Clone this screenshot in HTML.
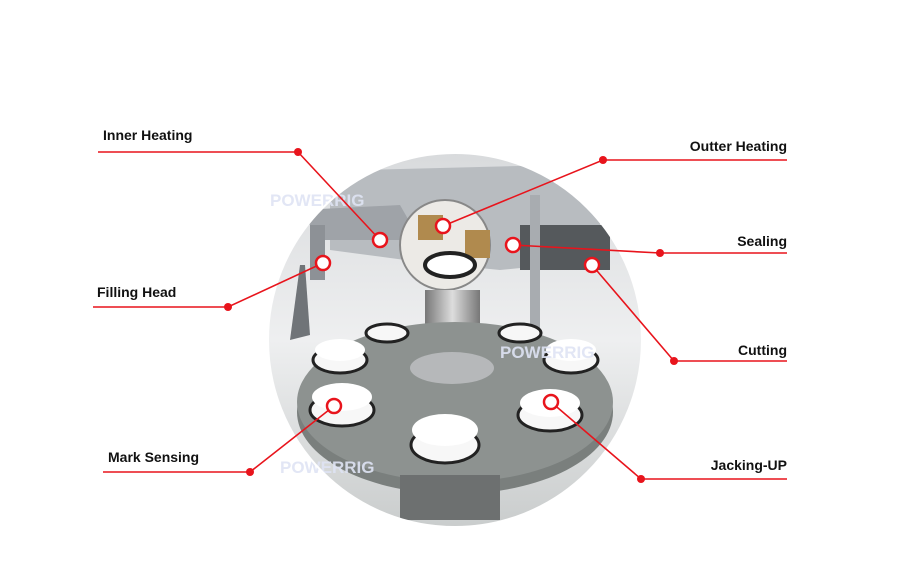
<!DOCTYPE html>
<html><head><style>
body{margin:0;background:#fff;width:900px;height:575px;overflow:hidden;font-family:"Liberation Sans",sans-serif}
</style></head><body>
<svg width="900" height="575" xmlns="http://www.w3.org/2000/svg">
<defs>
<clipPath id="c"><circle cx="455" cy="340" r="187"/></clipPath>
<linearGradient id="bg" x1="0" y1="0" x2="0" y2="1"><stop offset="0" stop-color="#d8dadc"/><stop offset="0.5" stop-color="#eeeff0"/><stop offset="1" stop-color="#c9cccc"/></linearGradient>
<linearGradient id="col" x1="0" y1="0" x2="1" y2="0"><stop offset="0" stop-color="#777"/><stop offset="0.5" stop-color="#ddd"/><stop offset="1" stop-color="#777"/></linearGradient>
</defs>
<g clip-path="url(#c)">
<rect x="260" y="150" width="400" height="380" fill="url(#bg)"/>
<path d="M360 170 L560 165 L600 200 L600 260 L500 270 L420 262 L330 250 L330 200 Z" fill="#b8bcc0"/>
<path d="M300 210 L400 205 L420 240 L320 240 Z" fill="#9fa3a8"/>
<rect x="310" y="225" width="15" height="55" fill="#8d9196"/>
<path d="M300 265 L290 340 L310 335 L305 265 Z" fill="#707478"/>
<rect x="520" y="225" width="90" height="45" fill="#55595c"/>
<circle cx="445" cy="245" r="45" fill="#eceae6" stroke="#888" stroke-width="2"/>
<rect x="418" y="215" width="25" height="25" fill="#b08a4e"/>
<rect x="465" y="230" width="25" height="28" fill="#b08a4e"/>
<ellipse cx="450" cy="265" rx="25" ry="12" fill="#fff" stroke="#222" stroke-width="4"/>
<rect x="425" y="290" width="55" height="75" fill="url(#col)"/>
<rect x="530" y="195" width="10" height="215" fill="#a8acb0"/>
<ellipse cx="455" cy="412" rx="158" ry="82" fill="#7a7f7d"/>
<ellipse cx="455" cy="402" rx="158" ry="80" fill="#8d9290"/>
<ellipse cx="452" cy="368" rx="42" ry="16" fill="#b6b8ba"/>
<rect x="400" y="475" width="100" height="45" fill="#6d7070"/>
<g fill="#f7f7f7" stroke="#222" stroke-width="3">
<ellipse cx="387" cy="333" rx="21" ry="9"/>
<ellipse cx="520" cy="333" rx="21" ry="9"/>
<ellipse cx="340" cy="360" rx="27" ry="13"/>
<ellipse cx="571" cy="360" rx="27" ry="13"/>
<ellipse cx="342" cy="410" rx="32" ry="16"/>
<ellipse cx="445" cy="445" rx="34" ry="18"/>
<ellipse cx="550" cy="415" rx="32" ry="16"/>
</g>
<g fill="#fff"><ellipse cx="342" cy="397" rx="30" ry="14"/><ellipse cx="445" cy="430" rx="33" ry="16"/><ellipse cx="550" cy="403" rx="30" ry="14"/><ellipse cx="340" cy="350" rx="25" ry="11"/><ellipse cx="571" cy="350" rx="25" ry="11"/></g>
</g>
<text x="270" y="206" font-size="17" font-weight="bold" fill="#dfe4f4" opacity="0.9">POWERRIG</text>
<text x="500" y="358" font-size="17" font-weight="bold" fill="#dfe4f4" opacity="0.9">POWERRIG</text>
<text x="280" y="473" font-size="17" font-weight="bold" fill="#dfe4f4" opacity="0.9">POWERRIG</text>
<circle cx="455" cy="340" r="187" fill="none" stroke="#fff" stroke-width="2"/>
<g stroke="#e8141c" stroke-width="1.6" fill="none">
<polyline points="98,152 298,152 380,240"/>
<polyline points="787,160 603,160 443,226"/>
<polyline points="787,253 660,253 513,245"/>
<polyline points="93,307 228,307 323,263"/>
<polyline points="787,361 674,361 592,265"/>
<polyline points="103,472 250,472 334,406"/>
<polyline points="787,479 641,479 551,402"/>
</g>
<g fill="#e8141c"><circle cx="298" cy="152" r="4"/><circle cx="603" cy="160" r="4"/><circle cx="660" cy="253" r="4"/><circle cx="228" cy="307" r="4"/><circle cx="674" cy="361" r="4"/><circle cx="250" cy="472" r="4"/><circle cx="641" cy="479" r="4"/></g>
<g fill="#fff" stroke="#e8141c" stroke-width="2.5"><circle cx="380" cy="240" r="7"/><circle cx="443" cy="226" r="7"/><circle cx="513" cy="245" r="7"/><circle cx="323" cy="263" r="7"/><circle cx="592" cy="265" r="7"/><circle cx="334" cy="406" r="7"/><circle cx="551" cy="402" r="7"/></g>
<g font-size="14" font-weight="bold" fill="#111">
<text x="103" y="140">Inner Heating</text>
<text x="787" y="151" text-anchor="end">Outter Heating</text>
<text x="787" y="246" text-anchor="end">Sealing</text>
<text x="97" y="297">Filling Head</text>
<text x="787" y="355" text-anchor="end">Cutting</text>
<text x="108" y="462">Mark Sensing</text>
<text x="787" y="470" text-anchor="end">Jacking-UP</text>
</g>
</svg>
</body></html>
